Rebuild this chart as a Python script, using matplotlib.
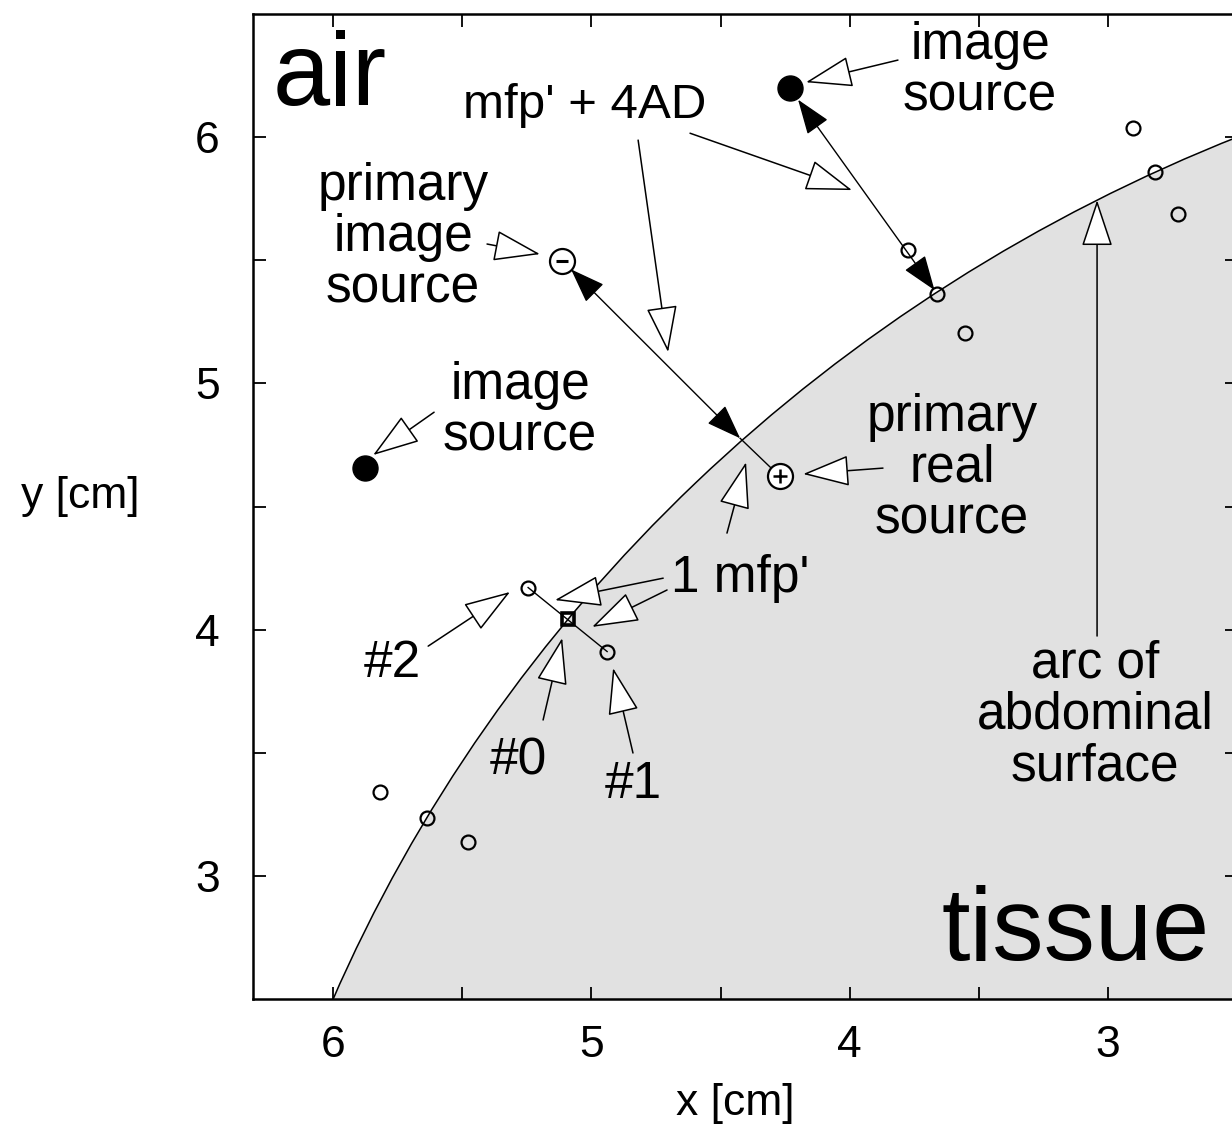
import matplotlib
matplotlib.use("Agg")
import matplotlib.pyplot as plt
from matplotlib.patches import Circle, FancyArrowPatch

# ---- geometry of the abdominal surface (cm) ----
surface_center = (0.0, 0.0)
surface_radius = 6.5

# detector triplets: point on the surface, 1 mfp' outside and 1 mfp' inside
surface_x = [5.636, 5.090, 3.662, 2.818]
surface_y = [3.235, 4.045, 5.365, 5.857]
outer_x = [5.818, 5.245, 3.774, 2.903]
outer_y = [3.341, 4.171, 5.540, 6.037]
inner_x = [5.477, 4.939, 3.553, 2.729]
inner_y = [3.138, 3.911, 5.203, 5.686]

# image sources mirrored across the extrapolated boundary
image_src_x = [5.876, 4.231]
image_src_y = [4.655, 6.198]

# primary source pair and its surface crossing
primary_real = (4.270, 4.622)
primary_image = (5.113, 5.499)
primary_cross = (4.424, 4.777)

x_ticks = [6, 5, 4, 3]
y_ticks = [3, 4, 5, 6]
x_minor = [5.5, 4.5, 3.5]
y_minor = [3.5, 4.5, 5.5]

plt.rcParams['font.family'] = ['Liberation Sans', 'DejaVu Sans']

fig = plt.figure(figsize=(12.32, 11.32), dpi=100)
ax = fig.add_axes([0.2054, 0.1175, 0.7987, 0.8701])
ax.set_xlim(6.31, 2.5)
ax.set_ylim(2.5, 6.5)

# tissue region below the arc
ax.add_patch(Circle(surface_center, surface_radius, facecolor='#e1e1e1',
                    edgecolor='black', lw=1.1, zorder=1))

# connecting line through the #2, #0, #1 triplet
ax.plot([outer_x[1], inner_x[1]], [outer_y[1], inner_y[1]], color='black', lw=1.0, zorder=3)

# primary path: image -> surface (double arrow), surface -> real source
def dbl_arrow(p0, p1, shrinkA, shrinkB):
    ar = FancyArrowPatch(p0, p1, arrowstyle='<|-|>,head_length=22,head_width=8',
                         mutation_scale=1, shrinkA=shrinkA, shrinkB=shrinkB,
                         fc='black', ec='black', lw=1.0, zorder=3)
    ax.add_patch(ar)

dbl_arrow(primary_image, primary_cross, 9, 0)
ax.plot([primary_cross[0], primary_real[0]], [primary_cross[1], primary_real[1]],
        color='black', lw=1.0, zorder=3)
dbl_arrow((image_src_x[1], image_src_y[1]), (surface_x[2], surface_y[2]), 10, 3)

# markers
ax.plot(outer_x, outer_y, 'o', ms=10, mfc='none', mec='black', mew=1.6, zorder=4)
ax.plot(inner_x, inner_y, 'o', ms=10, mfc='none', mec='black', mew=1.6, zorder=4)
sx = [v for i, v in enumerate(surface_x) if i != 1]
sy = [v for i, v in enumerate(surface_y) if i != 1]
ax.plot(sx, sy, 'o', ms=10, mfc='none', mec='black', mew=1.6, zorder=4)
ax.plot([surface_x[1]], [surface_y[1]], 's', ms=9, mfc='none', mec='black', mew=2.6, zorder=4)
ax.plot(image_src_x, image_src_y, 'o', ms=18, mfc='black', mec='black', zorder=4)
ax.plot(*primary_image, 'o', ms=18, mfc='white', mec='black', mew=1.6, zorder=4)
ax.plot(*primary_image, '_', ms=9, mec='black', mew=2.2, zorder=5)
ax.plot(*primary_real, 'o', ms=18, mfc='white', mec='black', mew=1.6, zorder=4)
ax.plot(*primary_real, '+', ms=10, mec='black', mew=1.8, zorder=5)

# hollow-headed pointer arrows
def pointer(tail, tip):
    ar = FancyArrowPatch(tail, tip, arrowstyle='-|>,head_length=30,head_width=10',
                         mutation_scale=1, shrinkA=0, shrinkB=0,
                         fc='white', ec='black', lw=1.1, zorder=6)
    ax.add_patch(ar)

pointer((3.813, 6.313), (4.169, 6.223))
pointer((4.819, 5.988), (4.703, 5.127))
pointer((4.618, 6.016), (3.991, 5.785))
pointer((5.404, 5.566), (5.199, 5.525))
pointer((5.609, 4.883), (5.845, 4.709))
pointer((3.871, 4.656), (4.180, 4.632))
pointer((4.722, 4.209), (5.141, 4.120))
pointer((4.707, 4.161), (4.997, 4.011))
pointer((4.475, 4.392), (4.401, 4.680))
pointer((5.632, 3.933), (5.315, 4.153))
pointer((5.187, 3.633), (5.113, 3.966))
pointer((4.839, 3.499), (4.916, 3.844))
pointer((3.042, 3.974), (3.042, 5.744))

# labels (baseline of the last line at the anchor)
fs = 37
txt = dict(fontsize=fs, ha='center', va='baseline', linespacing=1.06, zorder=7)
ax.text(3.495, 6.110, 'image\nsource', **txt)
ax.text(5.024, 6.077, "mfp' + 4AD", fontsize=35.5, ha='center', va='baseline', zorder=7)
ax.text(5.729, 5.330, 'primary\nimage\nsource', **txt)
ax.text(5.276, 4.729, 'image\nsource', **txt)
ax.text(3.604, 4.392, 'primary\nreal\nsource', **txt)
ax.text(4.424, 4.153, "1 mfp'", **txt)
ax.text(5.772, 3.808, '#2', **txt)
ax.text(5.284, 3.410, '#0', **txt)
ax.text(4.839, 3.316, '#1', **txt)
ax.text(3.050, 3.389, 'arc of\nabdominal\nsurface', **txt)
ax.text(6.236, 6.130, 'air', fontsize=74, ha='left', va='baseline', zorder=7)
ax.text(2.605, 2.659, 'tissue', fontsize=74, ha='right', va='baseline', zorder=7)

# axes styling
ax.set_xticks(x_ticks)
ax.set_yticks(y_ticks)
ax.set_xticks(x_minor, minor=True)
ax.set_yticks(y_minor, minor=True)
ax.tick_params(which='both', direction='in', top=True, right=True,
               length=9, width=1.3, labelsize=32)
ax.tick_params(axis='x', pad=19)
ax.tick_params(axis='y', pad=24)
for s in ax.spines.values():
    s.set_linewidth(1.8)
    s.set_zorder(8)

ax.set_xlabel('x [cm]', fontsize=32)
ax.xaxis.label.set_va('center')
ax.xaxis.set_label_coords(0.49, -0.106)
ax.set_ylabel('y [cm]', fontsize=32, rotation=0)
ax.yaxis.label.set_va('center')
ax.yaxis.label.set_ha('center')
ax.yaxis.set_label_coords(-0.176, 0.51)

fig.savefig('out.png', dpi=100)
